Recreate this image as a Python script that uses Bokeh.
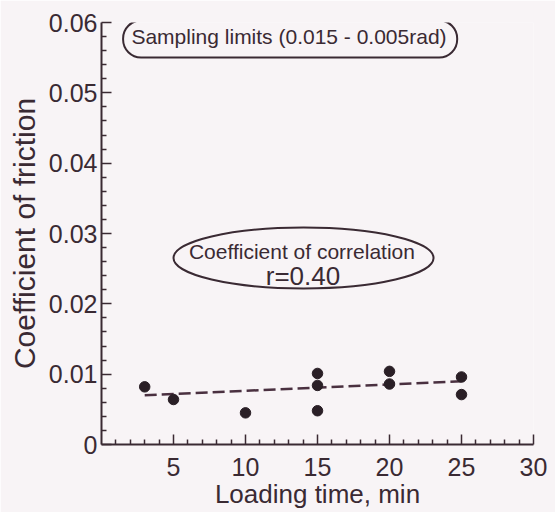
from bokeh.plotting import figure
from bokeh.models import FixedTicker, Label, CustomJSTickFormatter
from bokeh.embed import file_html
from bokeh.resources import INLINE

# ---- data ----
loading_time = [3, 5, 10, 15, 15, 15, 20, 20, 25, 25]
friction = [0.0082, 0.0064, 0.0045, 0.0101, 0.0084, 0.0048, 0.0104, 0.0086, 0.0096, 0.0071]
fit_time = [3, 25]
fit_friction = [0.0070, 0.0090]

x_ticks = [5, 10, 15, 20, 25, 30]
x_tick_labels = ["5", "10", "15", "20", "25", "30"]
x_minor = [i for i in range(1, 30) if i % 5 != 0]
y_ticks = [0.0, 0.01, 0.02, 0.03, 0.04, 0.05, 0.06]
y_tick_labels = ["0", "0.01", "0.02", "0.03", "0.04", "0.05", "0.06"]
y_minor = [0.002 * i for i in range(1, 30) if i % 5 != 0]

note_top = "Sampling limits (0.015 - 0.005rad)"
note_corr_1 = "Coefficient of correlation"
note_corr_2 = "r=0.40"

# ---- style ----
FONT = "Liberation Sans"
INK = "#3a2a33"
BG = "#f8f4f6"

p = figure(frame_width=432, frame_height=422,
           min_border_left=101, min_border_top=22, min_border_right=22, min_border_bottom=68,
           x_range=(0, 30), y_range=(0, 0.06),
           output_backend="svg", toolbar_location=None,
           background_fill_color=BG, border_fill_color=BG)
p.outline_line_color = None
p.grid.visible = False

fmt_js = "const i = tvals.findIndex(t => Math.abs(t - tick) < 1e-9); return i >= 0 ? tlabels[i] : '';"

xa = p.xaxis[0]
xa.ticker = FixedTicker(ticks=x_ticks, minor_ticks=x_minor)
xa.formatter = CustomJSTickFormatter(args=dict(tvals=x_ticks, tlabels=x_tick_labels), code=fmt_js)
xa.axis_label = "Loading time, min"

ya = p.yaxis[0]
ya.ticker = FixedTicker(ticks=y_ticks, minor_ticks=y_minor)
ya.formatter = CustomJSTickFormatter(args=dict(tvals=y_ticks, tlabels=y_tick_labels), code=fmt_js)
ya.axis_label = "Coefficient of friction"

for ax in (xa, ya):
    ax.axis_line_color = INK
    ax.axis_line_width = 2
    ax.major_tick_line_color = INK
    ax.minor_tick_line_color = INK
    ax.major_tick_line_width = 1.5
    ax.minor_tick_line_width = 1.5
    ax.major_tick_in = 10
    ax.major_tick_out = 0
    ax.minor_tick_in = 5
    ax.minor_tick_out = 0
    ax.major_label_text_font = FONT
    ax.major_label_text_font_size = "25px"
    ax.major_label_text_color = INK
    ax.axis_label_text_font = FONT
    ax.axis_label_text_font_style = "normal"
    ax.axis_label_text_color = INK

xa.major_label_standoff = 13
xa.axis_label_standoff = 0
xa.axis_label_text_font_size = "26px"
ya.major_label_standoff = 4
ya.axis_label_standoff = 5
ya.axis_label_text_font_size = "30px"

# regression line and points
p.line(fit_time, fit_friction, line_color="#4a3040", line_width=2.5, line_dash="12 5")
p.scatter(loading_time, friction, size=10.5, color="#2a1f26")

# annotations
p.rect(x=[13.1], y=[0.05766], width=[23.2], height=[0.00526],
       fill_color=None, line_color=INK, line_width=2, border_radius=18)
p.ellipse(x=[14.03], y=[0.02652], width=[18.06], height=[0.00867],
          fill_color=None, line_color=INK, line_width=2)

p.add_layout(Label(x=13.02, y=0.0580, text=note_top, text_align="center", text_baseline="middle",
                   text_font=FONT, text_font_size="21px", text_color=INK))
p.add_layout(Label(x=13.92, y=0.0274, text=note_corr_1, text_align="center", text_baseline="middle",
                   text_font=FONT, text_font_size="21px", text_color=INK))
p.add_layout(Label(x=13.99, y=0.0239, text=note_corr_2, text_align="center", text_baseline="middle",
                   text_font=FONT, text_font_size="26px", text_color=INK))

open("out.html", "w").write(file_html(p, INLINE))
